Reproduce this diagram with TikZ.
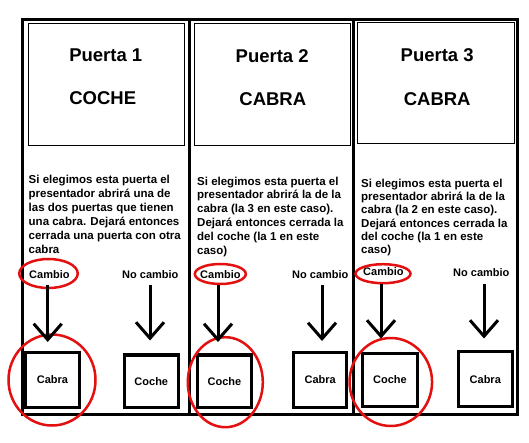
\documentclass[tikz,border=0pt]{standalone}
\usepackage{fontspec}
\setmainfont{Liberation Sans}
\usetikzlibrary{shapes.geometric,arrows.meta}
\definecolor{mark}{RGB}{228,16,16}
\begin{document}
\begin{tikzpicture}[x=1pt,y=-1pt,
  frame/.style={line width=3pt},
  topbox/.style={draw,line width=1pt,rectangle,inner sep=0pt},
  title/.style={font=\bfseries\fontsize{18.5}{22}\selectfont,inner sep=0pt,anchor=base},
  body/.style={font=\bfseries\fontsize{11.5}{#1}\selectfont,align=left,inner sep=0pt,anchor=north west},
  lab/.style={font=\bfseries\fontsize{11}{13}\selectfont,inner sep=0pt,anchor=base west},
  pick/.style={draw,line width=3.2pt,rectangle,inner sep=0pt,font=\bfseries\fontsize{11}{13}\selectfont},
  ring/.style={draw=mark,line width=2.5pt,ellipse,inner sep=0pt},
  arr/.style={line width=3pt,-{Straight Barb[length=16pt,width=28pt]}}
]
\useasboundingbox (0,0) rectangle (529,443);
\fill[white] (0,0) rectangle (529,443);
% outer frame
\draw[frame] (22,20) rectangle (517,414);
\draw[frame] (189.5,20) -- (189.5,414);
\draw[frame] (353.5,20) -- (353.5,414);
% top boxes
\node[topbox,minimum width=156.5pt,minimum height=121.3pt] (t1) at (106.25,84.65) {};
\node[topbox,minimum width=156.4pt,minimum height=121.3pt] (t2) at (272.5,84.65) {};
\node[topbox,minimum width=156.7pt,minimum height=121.3pt] (t3) at (435.65,83.35) {};
\node[title] (p1) at (105.8,61.7) {Puerta 1};
\node[title] (c1) at (102.7,104.3) {COCHE};
\node[title] (p2) at (272.2,62.3) {Puerta 2};
\node[title] (c2) at (272.8,106) {CABRA};
\node[title] (p3) at (437.2,61.7) {Puerta 3};
\node[title] (c3) at (437.2,106) {CABRA};
% explanations
\node[body=14] (e1) at (28.5,174.5) {Si elegimos esta puerta el\\presentador abrirá una de\\las dos puertas que tienen\\una cabra. Dejará entonces\\cerrada una puerta con otra\\cabra};
\node[body=13.8] (e2) at (197,176.5) {Si elegimos esta puerta el\\presentador abrirá la de la\\cabra (la 3 en este caso).\\Dejará entonces cerrada la\\del coche (la 1 en este\\caso)};
\node[body=13.3] (e3) at (361,178.8) {Si elegimos esta puerta el\\presentador abrirá la de la\\cabra (la 2 en este caso).\\Dejará entonces cerrada la\\del coche (la 1 en este\\caso)};
% labels
\node[lab] (ca1) at (29,278.3) {Cambio};
\node[lab] (nc1) at (122,278.3) {No cambio};
\node[lab] (ca2) at (200,278) {Cambio};
\node[lab] (nc2) at (292,278) {No cambio};
\node[lab] (ca3) at (363,275.5) {Cambio};
\node[lab] (nc3) at (453,276) {No cambio};
\node[ring,minimum width=58.5pt,minimum height=29pt] (r1) at (48.5,273.5) {};
\node[ring,minimum width=51pt,minimum height=20pt] (r2) at (220.3,274) {};
\node[ring,minimum width=55pt,minimum height=19pt] (r3) at (383,273.7) {};
% result boxes
\node[pick,minimum width=53.3pt,minimum height=54.6pt] (b1) at (52.5,380) {Cabra};
\node[pick,minimum width=54pt,minimum height=52.3pt] (b2) at (151.3,381.2) {Coche};
\node[pick,minimum width=54.4pt,minimum height=52.3pt] (b3) at (224.5,381.2) {Coche};
\node[pick,minimum width=53pt,minimum height=54.6pt] (b4) at (320.2,380) {Cabra};
\node[pick,minimum width=55pt,minimum height=53.3pt] (b5) at (390,380) {Coche};
\node[pick,minimum width=54pt,minimum height=55pt] (b6) at (485.3,379.2) {Cabra};
\node[ring,minimum width=87pt,minimum height=91pt] (R1) at (52,380) {};
\node[ring,minimum width=75pt,minimum height=90pt] (R2) at (225.3,382.2) {};
\node[ring,minimum width=82.5pt,minimum height=88pt] (R3) at (390.8,382) {};
% arrows
\coordinate (a1s) at (47.7,285); \coordinate (a1e) at (47.7,342);
\coordinate (a2s) at (150,285);  \coordinate (a2e) at (150,340.5);
\coordinate (a3s) at (218,285);  \coordinate (a3e) at (218,342);
\coordinate (a4s) at (322,285);  \coordinate (a4e) at (322,341);
\coordinate (a5s) at (381,283.5);\coordinate (a5e) at (381,338.5);
\coordinate (a6s) at (484,283.5);\coordinate (a6e) at (484,338.5);
\draw[arr] (a1s) -- (a1e);
\draw[arr] (a2s) -- (a2e);
\draw[arr] (a3s) -- (a3e);
\draw[arr] (a4s) -- (a4e);
\draw[arr] (a5s) -- (a5e);
\draw[arr] (a6s) -- (a6e);
\end{tikzpicture}
\end{document}
